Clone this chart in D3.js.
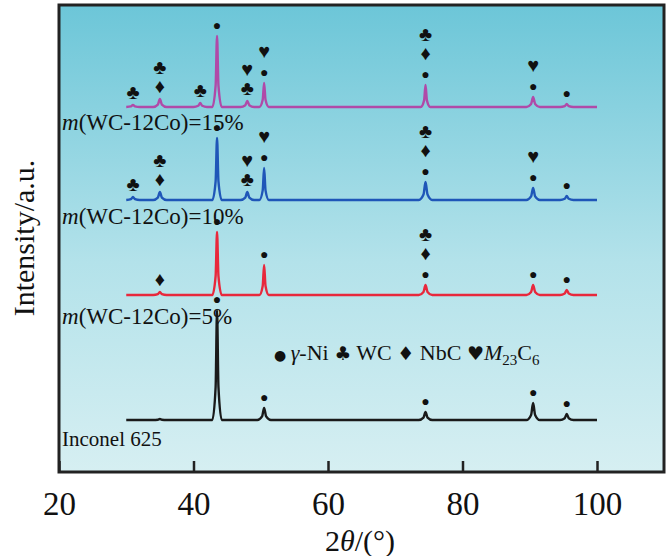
<!DOCTYPE html>
<html><head><meta charset="utf-8">
<script src="https://cdn.jsdelivr.net/npm/d3@7"></script>
<style>body{margin:0;background:#fff}text{font-family:"Liberation Serif",serif}</style>
</head><body><svg id="c" width="667" height="556"></svg>
<script>
// Peak positions (2θ) and heights per pattern, baseline offsets
var names = ["Inconel 625", "m5", "m10", "m15"];
var colors = ["#1a1a1a", "#e8283c", "#1f56b8", "#b04aa8"];
var offsets = [52, 177, 272, 365];
var peaksBlack = [[35, 1], [43.5, 110], [50.5, 12], [74.5, 8], [90.5, 17], [95.5, 6]];
var peaksRed = [[35, 3], [43.5, 63], [50.5, 30], [74.5, 10], [90.5, 10], [95.5, 5]];
var peaksBlue = [[31, 3], [35, 8], [43.5, 62], [48, 8], [50.5, 32], [74.5, 18], [90.5, 12], [95.5, 4]];
var peaksMag = [[31, 2], [35, 8], [41, 4], [43.5, 71], [48, 6], [50.5, 24], [74.5, 22], [90.5, 10], [95.5, 3]];
var peaks = [peaksBlack, peaksRed, peaksBlue, peaksMag];
// Phase markers: position, glyph stack from bottom
var marksBlack = [[43.5, "●"], [50.5, "●"], [74.5, "●"], [90.5, "●"], [95.5, "●"]];
var marksRed = [[35, "♦"], [43.5, "●"], [50.5, "●"], [74.5, "●♦♣"], [90.5, "●"], [95.5, "●"]];
var marksBlue = [[31, "♣"], [35, "♦♣"], [43.5, "●"], [48, "♣♥"], [50.5, "●♥"], [74.5, "●♦♣"], [90.5, "●♥"], [95.5, "●"]];
var marksMag = [[31, "♣"], [35, "♦♣"], [41, "♣"], [43.5, "●"], [48, "♣♥"], [50.5, "●♥"], [74.5, "●♦♣"], [90.5, "●♥"], [95.5, "●"]];
var marks = [marksBlack, marksRed, marksBlue, marksMag];
var xTicks = [20, 40, 60, 80, 100];

var L = 59, R = 664, T = 5, B = 472;
var svg = d3.select("#c");
var x = d3.scaleLinear().domain([20, 110]).range([L, L + 90 * 6.725]);
var y = d3.scaleLinear().domain([0, B - T]).range([B, T]);

var grad = svg.append("defs").append("linearGradient").attr("id", "bg")
  .attr("x1", 0).attr("y1", 0).attr("x2", 0).attr("y2", 1);
grad.append("stop").attr("offset", "0").attr("stop-color", "#6cc6d8");
grad.append("stop").attr("offset", "0.55").attr("stop-color", "#b3e2ea");
grad.append("stop").attr("offset", "1").attr("stop-color", "#d6eff2");
svg.append("rect").attr("x", L).attr("y", T).attr("width", R - L).attr("height", B - T)
  .attr("fill", "url(#bg)");

// Build each pattern line: flat baseline, narrow peaks
function pts(pk, off) {
  var p = [[30, off]];
  pk.forEach(function(d) {
    var w = d[1] > 20 ? 0.7 : 1.0;
    p.push([d[0] - w, off], [d[0] - w * 0.3, off + d[1] * 0.3], [d[0], off + d[1]],
      [d[0] + w * 0.3, off + d[1] * 0.3], [d[0] + w, off]);
  });
  p.push([100, off]);
  return p;
}
var line = d3.line().x(function(d) { return x(d[0]); }).y(function(d) { return y(d[1]); })
  .curve(d3.curveMonotoneX);

peaks.forEach(function(pk, i) {
  svg.append("path").attr("d", line(pts(pk, offsets[i]))).attr("fill", "none")
    .attr("stroke", colors[i]).attr("stroke-width", 2.4).attr("stroke-linejoin", "round");
  marks[i].forEach(function(m) {
    var h = 0;
    pk.forEach(function(d) { if (d[0] === m[0]) h = d[1]; });
    var chars = Array.from(m[1]);
    chars.forEach(function(ch, k) {
      svg.append("text").attr("x", x(m[0])).attr("y", y(offsets[i] + h) - 6 - k * 19)
        .attr("text-anchor", "middle").attr("font-family", "DejaVu Sans")
        .attr("font-size", ch === "●" ? 14 : 20).attr("fill", "#111").text(ch);
    });
  });
});

// Sample labels
[["15%", 130], ["10%", 224], ["5%", 324]].forEach(function(d) {
  var t = svg.append("text").attr("x", 62).attr("y", d[1]).attr("font-size", 23).attr("fill", "#111");
  t.append("tspan").attr("font-style", "italic").text("m");
  t.append("tspan").text("(WC-12Co)=" + d[0]);
});
svg.append("text").attr("x", 62).attr("y", 446).attr("font-size", 21).attr("fill", "#111").text("Inconel 625");

// Legend
var lg = svg.append("text").attr("x", 274).attr("y", 360).attr("font-size", 22).attr("fill", "#111");
lg.append("tspan").attr("font-family", "DejaVu Sans").attr("font-size", 14).text("● ");
lg.append("tspan").attr("font-style", "italic").text("γ");
lg.append("tspan").text("-Ni ");
lg.append("tspan").attr("font-family", "DejaVu Sans").attr("font-size", 19).text("♣");
lg.append("tspan").text(" WC ");
lg.append("tspan").attr("font-family", "DejaVu Sans").attr("font-size", 19).text("♦");
lg.append("tspan").text(" NbC ");
lg.append("tspan").attr("font-family", "DejaVu Sans").attr("font-size", 19).text("♥");
lg.append("tspan").attr("font-style", "italic").text("M");
lg.append("tspan").attr("font-size", 15).attr("dy", 5).text("23");
lg.append("tspan").attr("dy", -5).text("C");
lg.append("tspan").attr("font-size", 15).attr("dy", 5).text("6");

// Axis with inward ticks
var ax = svg.append("g").attr("transform", "translate(0," + B + ")")
  .call(d3.axisBottom(x).tickValues(xTicks).tickSizeInner(-11).tickSizeOuter(0).tickPadding(20));
ax.select(".domain").remove();
ax.selectAll("line").attr("stroke", "#222").attr("stroke-width", 2.5);
ax.selectAll("text").attr("font-size", 33).attr("fill", "#111").attr("font-family", "Liberation Serif");

svg.append("rect").attr("x", L).attr("y", T).attr("width", R - L).attr("height", B - T)
  .attr("fill", "none").attr("stroke", "#222").attr("stroke-width", 3);

var xt = svg.append("text").attr("x", 360).attr("y", 551).attr("text-anchor", "middle")
  .attr("font-size", 30).attr("fill", "#111");
xt.append("tspan").text("2");
xt.append("tspan").attr("font-style", "italic").text("θ");
xt.append("tspan").text("/(°)");
svg.append("text").attr("transform", "translate(34,238) rotate(-90)").attr("text-anchor", "middle")
  .attr("font-size", 30).attr("fill", "#111").text("Intensity/a.u.");
</script></body></html>
